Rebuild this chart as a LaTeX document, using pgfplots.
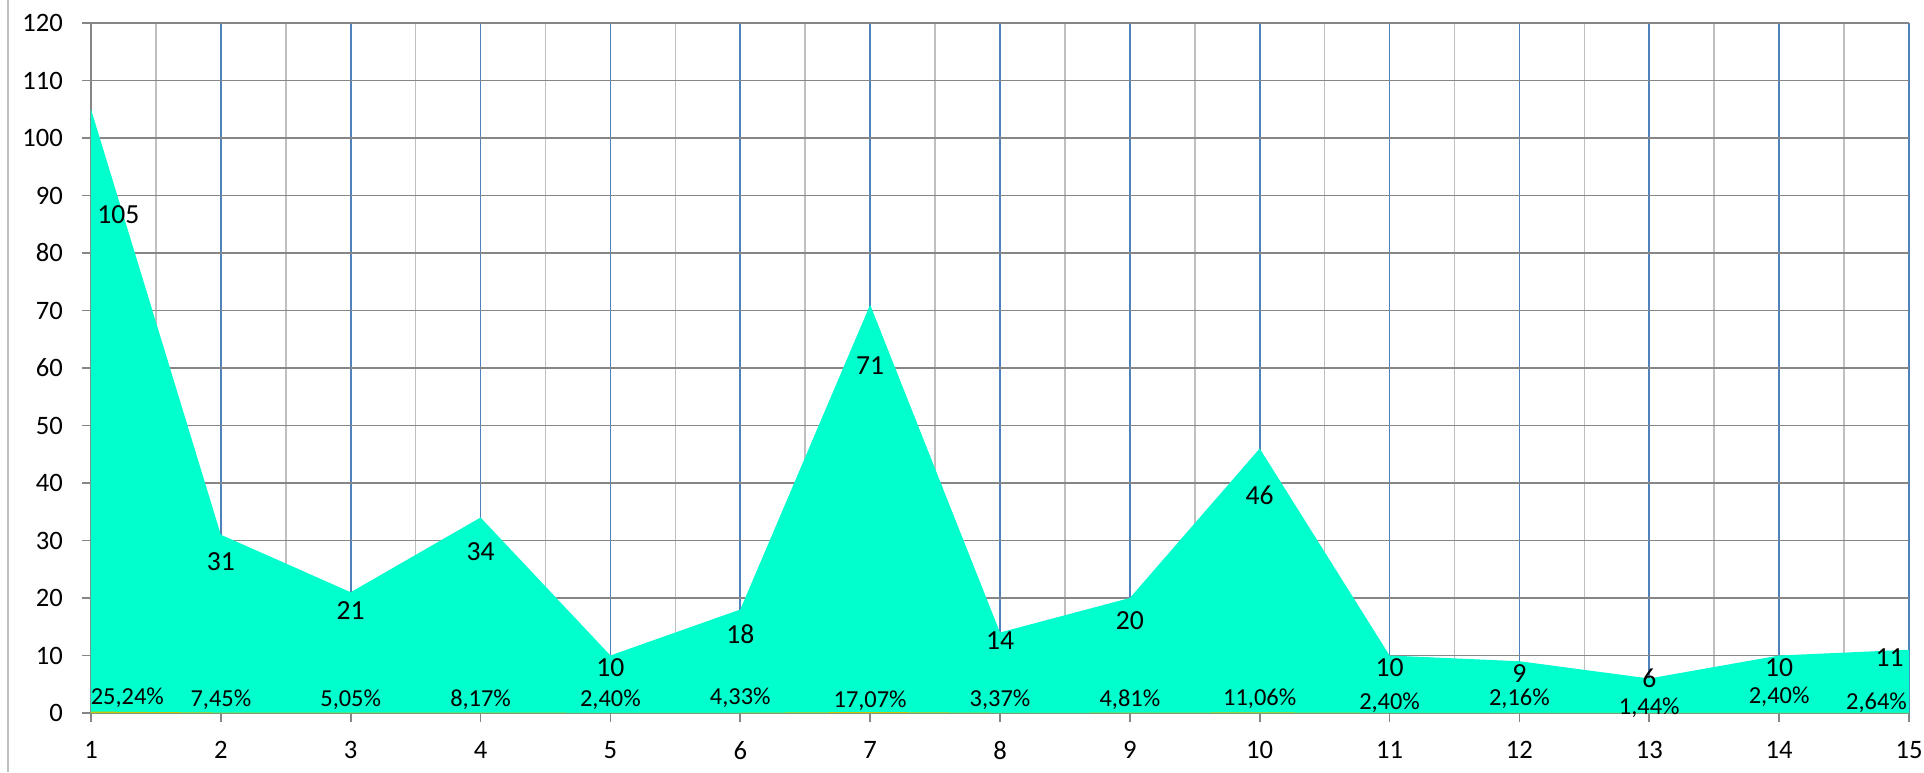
\documentclass[border=0pt]{standalone}
\usepackage{pgfplots}
\pgfplotsset{compat=1.18}
\usepackage{pgfplotstable}
\usepackage{fontspec}
\setmainfont{Carlito}
\definecolor{areacol}{RGB}{0,255,204}
\definecolor{gridblue}{RGB}{79,129,189}
\definecolor{griddark}{RGB}{134,134,134}
\definecolor{gridlight}{RGB}{191,191,191}
\definecolor{pctcol}{RGB}{200,200,0}

\pgfplotstableread{
x y
1 105
2 31
3 21
4 34
5 10
6 18
7 71
8 14
9 20
10 46
11 10
12 9
13 6
14 10
15 11
}\counts

\pgfplotstableread{
x y
1 0.2524
2 0.0745
3 0.0505
4 0.0817
5 0.0240
6 0.0433
7 0.1707
8 0.0337
9 0.0481
10 0.1106
11 0.0240
12 0.0216
13 0.0144
14 0.0240
15 0.0264
}\shares

\begin{document}
\begin{tikzpicture}
\useasboundingbox (-45.5pt,-29.5pt) rectangle (916.5pt,356.5pt);
\draw[gridlight, line width=0.8pt] (-41.5pt,-29.5pt) -- (-41.5pt,356.5pt);
\begin{axis}[
  scale only axis,
  width=909pt, height=345pt,
  xmin=1, xmax=15, ymin=0, ymax=120,
  xtick={1,...,15},
  minor xtick={1.5,2.5,...,14.5},
  ytick={0,10,...,120},
  grid=both,
  x grid style={gridblue, line width=0.8pt},
  y grid style={griddark, line width=0.8pt},
  minor x grid style={gridlight, line width=0.8pt},
  axis lines=left,
  axis line style={-, griddark, line width=0.8pt},
  tick align=outside,
  major tick length=4.5pt,
  minor tick length=0pt,
  tick style={griddark, line width=0.8pt},
  /pgf/number format/assume math mode=true,
  ticklabel style={font=\fontsize{13.3}{15}\selectfont, text=black},
  xticklabel style={yshift=-6pt},
  yticklabel style={xshift=-6pt},
  clip=false,
]
\addplot[fill=areacol, draw=none] table[x=x,y=y] {\counts} \closedcycle;
\addplot[fill=pctcol, draw=none] table[x=x,y=y] {\shares} \closedcycle;
% value labels
\addplot[draw=none, mark=none, nodes near coords, point meta=explicit symbolic,
  every node near coord/.append style={anchor=center, text=black, font=\fontsize{13.8}{15}\selectfont}]
  table[x=x, y=y, meta=lab] {
x y lab
1.21 86.7 105
2 26.3 31
3 17.9 21
4 28.0 34
5 7.9 10
6 13.7 18
7 60.4 71
8 12.6 14
9 16.0 20
10 37.8 46
11 7.9 10
12 6.9 9
13 6.0 6
14 7.9 10
14.85 9.6 11
};
% percentage labels
\addplot[draw=none, mark=none, nodes near coords, point meta=explicit symbolic,
  every node near coord/.append style={anchor=center, text=black, font=\fontsize{12.2}{13}\selectfont}]
  table[x=x, y=y, meta=lab] {
x y lab
1.28 2.6 25,24\%
2 2.3 7,45\%
3 2.3 5,05\%
4 2.3 8,17\%
5 2.3 2,40\%
6 2.6 4,33\%
7 2.1 17,07\%
8 2.3 3,37\%
9 2.3 4,81\%
10 2.5 11,06\%
11 1.7 2,40\%
12 2.4 2,16\%
13 0.9 1,44\%
14 2.9 2,40\%
14.75 1.7 2,64\%
};
\end{axis}
\end{tikzpicture}
\end{document}
